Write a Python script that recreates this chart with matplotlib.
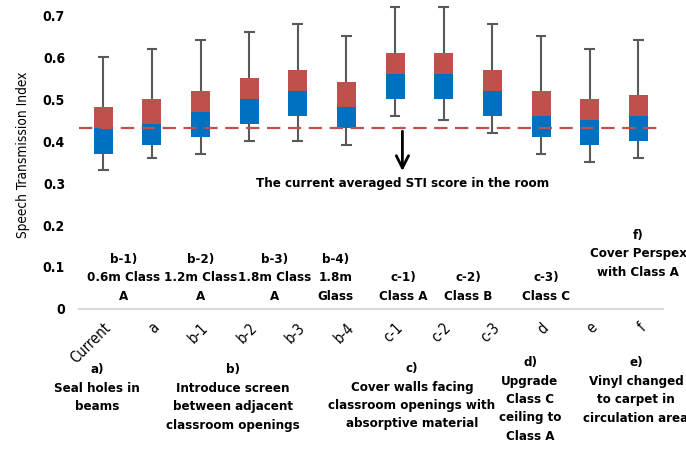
import matplotlib
matplotlib.use("Agg")
import matplotlib.pyplot as plt
import numpy as np

plt.rcParams['font.family'] = ['DejaVu Sans']
plt.rcParams['font.stretch'] = 'condensed'

# box statistics
cats = ['Current', 'a', 'b-1', 'b-2', 'b-3', 'b-4', 'c-1', 'c-2', 'c-3', 'd', 'e', 'f']
mins = [0.33, 0.36, 0.37, 0.40, 0.40, 0.39, 0.46, 0.45, 0.42, 0.37, 0.35, 0.36]
q1 = [0.37, 0.39, 0.41, 0.44, 0.46, 0.43, 0.50, 0.50, 0.46, 0.41, 0.39, 0.40]
med = [0.43, 0.44, 0.47, 0.50, 0.52, 0.48, 0.56, 0.56, 0.52, 0.46, 0.45, 0.46]
q3 = [0.48, 0.50, 0.52, 0.55, 0.57, 0.54, 0.61, 0.61, 0.57, 0.52, 0.50, 0.51]
maxs = [0.60, 0.62, 0.64, 0.66, 0.68, 0.65, 0.72, 0.72, 0.68, 0.65, 0.62, 0.64]
current_avg = 0.43

blue = '#0070C0'
red = '#C0504D'
gray = '#595959'
fs = 9.5
ls = 1.55

fig = plt.figure(figsize=(6.86, 4.55), dpi=100)
ax = fig.add_axes([0.115, 0.321, 0.851, 0.678])

x = np.arange(len(cats))
q1 = np.array(q1); med = np.array(med); q3 = np.array(q3)

# whiskers and caps
ax.vlines(x, mins, maxs, color=gray, lw=1.5, zorder=1)
ax.hlines(mins, x - 0.11, x + 0.11, color=gray, lw=1.5, zorder=1)
ax.hlines(maxs, x - 0.11, x + 0.11, color=gray, lw=1.5, zorder=1)

# boxes
ax.bar(x, med - q1, bottom=q1, width=0.39, color=blue, zorder=2)
ax.bar(x, q3 - med, bottom=med, width=0.39, color=red, zorder=2)

# current average line
ax.axhline(current_avg, color=red, lw=1.6, dashes=(6, 3.4), zorder=3)
ax.annotate('', xy=(6.15, 0.322), xytext=(6.15, current_avg),
            arrowprops=dict(arrowstyle='->', color='black', lw=2, mutation_scale=22))
ax.text(6.15, 0.30, 'The current averaged STI score in the room', ha='center', va='center',
        fontsize=fs, fontweight='bold')

ax.set_xlim(-0.5, 11.5)
ax.set_ylim(0, 0.735)
ax.set_yticks([0, 0.1, 0.2, 0.3, 0.4, 0.5, 0.6, 0.7])
ax.set_yticklabels(['0', '0.1', '0.2', '0.3', '0.4', '0.5', '0.6', '0.7'], fontsize=10, fontweight='bold')
ax.set_xticks(x)
ax.set_xticklabels(cats, rotation=45, ha='right', rotation_mode='anchor', fontsize=10.5)
ax.tick_params(axis='y', length=0, pad=10)
ax.tick_params(axis='x', length=0, pad=8)
ax.set_ylabel('Speech Transmission Index', fontsize=9.8, labelpad=9)

for s in ['top', 'right', 'left']:
    ax.spines[s].set_visible(False)
ax.spines['bottom'].set_color('#D9D9D9')
ax.spines['bottom'].set_linewidth(1.5)

# option labels inside the plot
inner = [
    (0.42, 'b-1)\n0.6m Class\nA'),
    (2.0, 'b-2)\n1.2m Class\nA'),
    (3.53, 'b-3)\n1.8m Class\nA'),
    (4.78, 'b-4)\n1.8m\nGlass'),
    (6.16, 'c-1)\nClass A'),
    (7.5, 'c-2)\nClass B'),
    (9.1, 'c-3)\nClass C'),
]
for xi, t in inner:
    ax.text(xi, 0.015, t, ha='center', va='bottom', fontsize=fs, fontweight='bold', linespacing=ls)
ax.text(11.0, 0.072, 'f)\nCover Perspex\nwith Class A', ha='center', va='bottom',
        fontsize=fs, fontweight='bold', linespacing=ls)

# groups below the axis (figure pixel coordinates)
groups = [
    (97, 363, 'a)\nSeal holes in\nbeams'),
    (233, 363, 'b)\nIntroduce screen\nbetween adjacent\nclassroom openings'),
    (412, 362, 'c)\nCover walls facing\nclassroom openings with\nabsorptive material'),
    (530, 356, 'd)\nUpgrade\nClass C\nceiling to\nClass A'),
    (636, 356, 'e)\nVinyl changed\nto carpet in\ncirculation area'),
]
for px, py, t in groups:
    fig.text(px / 686, 1 - py / 455, t, ha='center', va='top', fontsize=fs,
             fontweight='bold', linespacing=ls)

fig.savefig('out.png', dpi=100)
